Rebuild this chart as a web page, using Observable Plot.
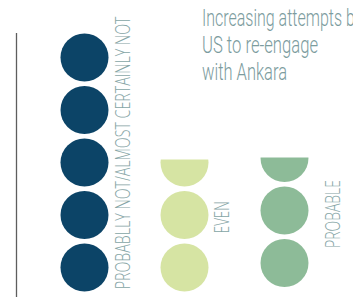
<!DOCTYPE html>
<html><head><meta charset="utf-8">
<script src="https://cdn.jsdelivr.net/npm/d3@7"></script>
<script src="https://cdn.jsdelivr.net/npm/@observablehq/plot@0.6"></script>
<style>
html,body{margin:0;padding:0;background:#fff;overflow:hidden;width:353px;height:297px}
#wrap{position:relative;width:353px;height:297px;overflow:hidden}
#chart svg{display:block}
#title{position:absolute;left:201.5px;top:5px;font-family:Roboto;font-weight:300;font-size:23px;line-height:27px;color:#7c9c9e;white-space:nowrap}
#title div{height:27px;transform-origin:0 0}
#title span{display:inline-block}
</style></head><body><div id="wrap"><div id="chart"></div><div id="title"></div></div>
<script>
// ---- data ----
const categories = ["PROBABLLY NOT/ALMOST CERTAINLY NOT", "EVEN", "PROBABLE"];
const values = [5, 2.55, 2.5];
const colors = ["#0c4467", "#d6e4a3", "#8dbb98"];
const titleLines = ["Increasing attempts by", "US to re-engage", "with Ankara"];

// ---- derived tables ----
const dots = [];
const covers = [];
categories.forEach((c, k) => {
  const v = values[k];
  const n = Math.ceil(v);
  for (let i = 0; i < n; i++) dots.push({category: c, slot: i + 0.5});
  if (n !== v) covers.push({category: c, y1: v, y2: n});
});

// per-column styling (pixel offsets and label lengths)
const colStyle = [
  {dy: 0, labelDx: 39, len: 273},
  {dy: 0, labelDx: 37.7, len: 32},
  {dy: -4.5, labelDx: 48.7, len: 68}
];
const labelColor = "#86a5a6";
// title line widths (pixels) for condensed look; line 1 measured without its last word
const titleWidths = [140, 116, 85];

const marks = [
  Plot.ruleX([categories[0]], {x: d => d, dx: -68, stroke: "#5e5e5e", strokeWidth: 1.3, insetTop: 2.25, insetBottom: -4})
];
categories.forEach((c, k) => {
  const s = colStyle[k];
  marks.push(Plot.dot(dots.filter(d => d.category === c), {x: "category", y: "slot", r: 24, fill: colors[k], stroke: "none", dy: s.dy}));
  marks.push(Plot.ruleX(covers.filter(d => d.category === c), {x: "category", y1: "y1", y2: "y2", stroke: "white", strokeWidth: 54, dy: s.dy}));
  marks.push(Plot.text([c], {x: d => d, y: () => values[k] / 2, text: d => d, rotate: -90, textAnchor: "middle",
    dx: s.labelDx, dy: -9.6 + s.dy, fontSize: 21, fontFamily: "Open Sans", fontWeight: 300, fill: labelColor}));
});

const svg = Plot.plot({
  width: 353,
  height: 297,
  marginLeft: 15.5,
  marginRight: 1,
  marginTop: 30.75,
  marginBottom: 3.75,
  style: {background: "white", overflow: "visible"},
  x: {type: "point", domain: categories, padding: 0.678, axis: null},
  y: {domain: [0, 5], axis: null},
  marks
});
document.getElementById("chart").appendChild(svg);

// condense rotated labels (condensed typeface look)
const texts = [...svg.querySelectorAll('text[transform*="rotate"]')];
categories.forEach((c, k) => {
  const t = texts.find(t => t.textContent === c);
  if (!t) return;
  const f = colStyle[k].len / t.getComputedTextLength();
  t.setAttribute("transform", t.getAttribute("transform") + ` scale(${f},1)`);
});

// title
const title = document.getElementById("title");
titleLines.forEach((l, i) => {
  const div = document.createElement("div");
  const sp = document.createElement("span");
  sp.textContent = i === 0 ? l.slice(0, l.lastIndexOf(" ")) : l;
  div.appendChild(sp);
  title.appendChild(div);
  const w = sp.getBoundingClientRect().width;
  sp.textContent = l;
  div.style.transform = `scaleX(${titleWidths[i] / w})`;
});
</script></body></html>
